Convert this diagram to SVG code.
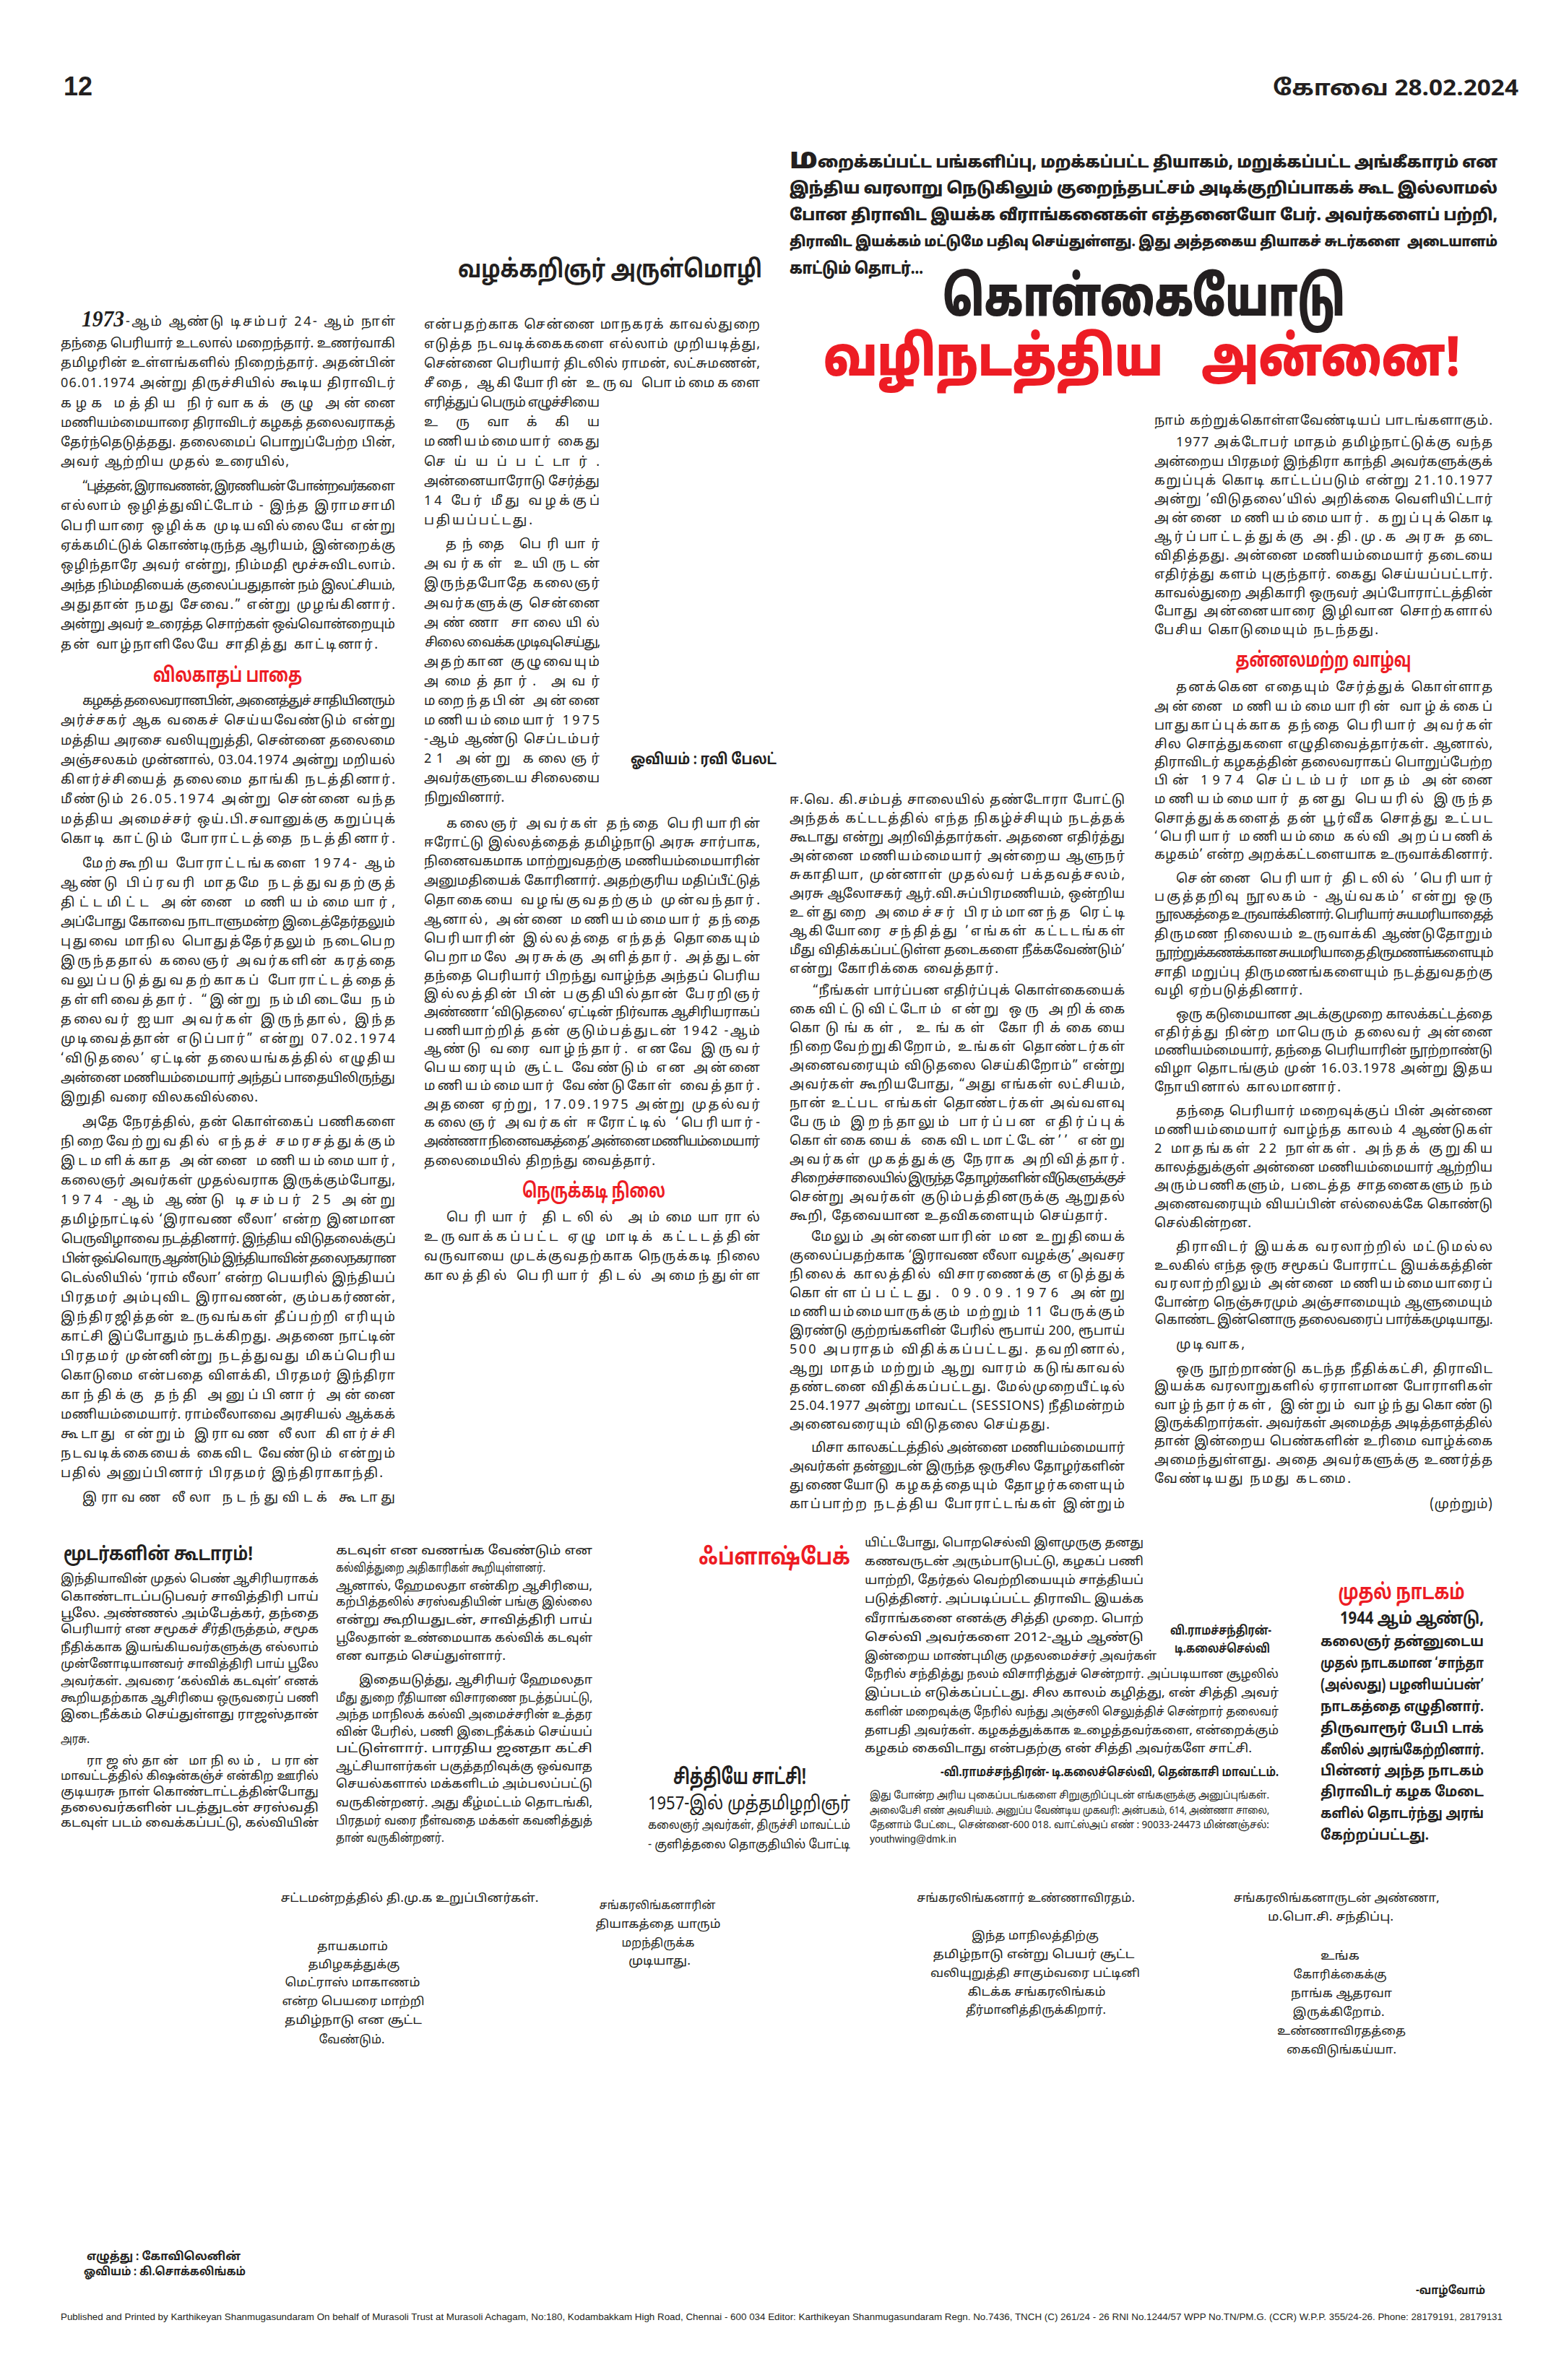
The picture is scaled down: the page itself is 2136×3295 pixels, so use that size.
<svg xmlns="http://www.w3.org/2000/svg" width="2136" height="3295" viewBox="0 0 2136 3295">
<style>
text{font-family:"Noto Sans Tamil","Noto Serif Tamil","Lohit Tamil","Latha","Noto Sans","DejaVu Sans",sans-serif;fill:#231f20}
.b{font-size:18px}
.rh{font-size:28px;font-weight:bold;fill:#ed1c24}
.bd{font-weight:bold}
.s{font-size:17px}
.c{font-size:16px;fill:#333}
.m{text-anchor:middle}
</style>
<rect width="2136" height="3295" fill="#ffffff"/>
<g id="header">
<text x="88" y="132" style="font-family:'Liberation Sans',sans-serif;font-size:36px;font-weight:bold">12</text>
<text x="1762" y="132" class="bd" style="font-size:30px" textLength="340" lengthAdjust="spacingAndGlyphs">கோவை 28.02.2024</text>
</g>
<g id="intro" style="font-size:22px;font-weight:900">
<text x="1093" y="233" style="font-size:40px">ம</text>
<text x="1132" y="232" textLength="941" lengthAdjust="spacingAndGlyphs">றைக்கப்பட்ட பங்களிப்பு, மறக்கப்பட்ட தியாகம், மறுக்கப்பட்ட அங்கீகாரம் என</text>
<text x="1093" y="268" textLength="980" lengthAdjust="spacingAndGlyphs">இந்திய வரலாறு நெடுகிலும் குறைந்தபட்சம் அடிக்குறிப்பாகக் கூட இல்லாமல்</text>
<text x="1093" y="305" textLength="980" lengthAdjust="spacingAndGlyphs">போன திராவிட இயக்க வீராங்கனைகள் எத்தனையோ பேர். அவர்களைப் பற்றி,</text>
<text x="1093" y="341" style="font-size:20px" textLength="845" lengthAdjust="spacingAndGlyphs">திராவிட இயக்கம் மட்டுமே பதிவு செய்துள்ளது. இது அத்தகைய தியாகச் சுடர்களை</text>
<text x="1948" y="341" style="font-size:20px" textLength="125" lengthAdjust="spacingAndGlyphs">அடையாளம்</text>
<text x="1093" y="379" textLength="185" lengthAdjust="spacingAndGlyphs">காட்டும் தொடர்...</text>
</g>
<g id="title">
<text x="1305" y="437" style="font-size:76px;font-weight:900" textLength="557" lengthAdjust="spacingAndGlyphs">கொள்கையோடு</text>
<text x="1140" y="520" style="font-size:76px;font-weight:900;fill:#ed1c24" textLength="470" lengthAdjust="spacingAndGlyphs">வழிநடத்திய</text>
<text x="1663" y="520" style="font-size:76px;font-weight:900;fill:#ed1c24" textLength="359" lengthAdjust="spacingAndGlyphs">அன்னை!</text>
</g>
<g id="byline">
<text x="634" y="384" class="bd" style="font-size:34px" textLength="421" lengthAdjust="spacingAndGlyphs">வழக்கறிஞர் அருள்மொழி</text>
</g>
<g id="col1" class="b">
<text x="113" y="452" style="font-family:'Liberation Serif',serif;font-size:31px;font-weight:bold;font-style:italic" textLength="59" lengthAdjust="spacingAndGlyphs">1973</text>
<text x="174" y="451" textLength="373" lengthAdjust="spacing">-ஆம் ஆண்டு டிசம்பர் 24- ஆம் நாள்</text>
<text x="84" y="481" textLength="463" lengthAdjust="spacing">தந்தை பெரியார் உடலால் மறைந்தார். உணர்வாகி</text>
<text x="84" y="508" textLength="463" lengthAdjust="spacing">தமிழரின் உள்ளங்களில் நிறைந்தார். அதன்பின்</text>
<text x="84" y="536" textLength="463" lengthAdjust="spacing">06.01.1974 அன்று திருச்சியில் கூடிய திராவிடர்</text>
<text x="84" y="564" textLength="463" lengthAdjust="spacing">கழக மத்திய நிர்வாகக் குழு அன்னை</text>
<text x="84" y="591" textLength="463" lengthAdjust="spacing">மணியம்மையாரை திராவிடர் கழகத் தலைவராகத்</text>
<text x="84" y="618" textLength="463" lengthAdjust="spacing">தேர்ந்தெடுத்தது. தலைமைப் பொறுப்பேற்ற பின்,</text>
<text x="84" y="645" textLength="316" lengthAdjust="spacing">அவர் ஆற்றிய முதல் உரையில்,</text>
<text x="114" y="679" textLength="433" lengthAdjust="spacing">“புத்தன், இராவணன், இரணியன் போன்றவர்களை</text>
<text x="84" y="706" textLength="463" lengthAdjust="spacing">எல்லாம் ஒழித்துவிட்டோம் - இந்த இராமசாமி</text>
<text x="84" y="734" textLength="463" lengthAdjust="spacing">பெரியாரை ஒழிக்க முடியவில்லையே என்று</text>
<text x="84" y="761" textLength="463" lengthAdjust="spacing">ஏக்கமிட்டுக் கொண்டிருந்த ஆரியம், இன்றைக்கு</text>
<text x="84" y="788" textLength="463" lengthAdjust="spacing">ஒழிந்தாரே அவர் என்று, நிம்மதி மூச்சுவிடலாம்.</text>
<text x="84" y="816" textLength="463" lengthAdjust="spacing">அந்த நிம்மதியைக் குலைப்பதுதான் நம் இலட்சியம்,</text>
<text x="84" y="843" textLength="463" lengthAdjust="spacing">அதுதான் நமது சேவை.” என்று முழங்கினார்.</text>
<text x="84" y="870" textLength="463" lengthAdjust="spacing">அன்று அவர் உரைத்த சொற்கள் ஒவ்வொன்றையும்</text>
<text x="84" y="898" textLength="439" lengthAdjust="spacing">தன் வாழ்நாளிலேயே சாதித்து காட்டினார்.</text>
<text x="315" y="944" class="rh m" textLength="206" lengthAdjust="spacingAndGlyphs">விலகாதப் பாதை</text>
<text x="114" y="976" textLength="433" lengthAdjust="spacing">கழகத் தலைவரானபின், அனைத்துச் சாதியினரும்</text>
<text x="84" y="1003" textLength="463" lengthAdjust="spacing">அர்ச்சகர் ஆக வகைச் செய்யவேண்டும் என்று</text>
<text x="84" y="1031" textLength="463" lengthAdjust="spacing">மத்திய அரசை வலியுறுத்தி, சென்னை தலைமை</text>
<text x="84" y="1058" textLength="463" lengthAdjust="spacing">அஞ்சலகம் முன்னால், 03.04.1974 அன்று மறியல்</text>
<text x="84" y="1085" textLength="463" lengthAdjust="spacing">கிளர்ச்சியைத் தலைமை தாங்கி நடத்தினார்.</text>
<text x="84" y="1112" textLength="463" lengthAdjust="spacing">மீண்டும் 26.05.1974 அன்று சென்னை வந்த</text>
<text x="84" y="1140" textLength="463" lengthAdjust="spacing">மத்திய அமைச்சர் ஒய்.பி.சவானுக்கு கறுப்புக்</text>
<text x="84" y="1167" textLength="463" lengthAdjust="spacing">கொடி காட்டும் போராட்டத்தை நடத்தினார்.</text>
<text x="114" y="1201" textLength="433" lengthAdjust="spacing">மேற்கூறிய போராட்டங்களை 1974- ஆம்</text>
<text x="84" y="1228" textLength="463" lengthAdjust="spacing">ஆண்டு பிப்ரவரி மாதமே நடத்துவதற்குத்</text>
<text x="84" y="1255" textLength="463" lengthAdjust="spacing">திட்டமிட்ட அன்னை மணியம்மையார்,</text>
<text x="84" y="1282" textLength="463" lengthAdjust="spacing">அப்போது கோவை நாடாளுமன்ற இடைத்தேர்தலும்</text>
<text x="84" y="1309" textLength="463" lengthAdjust="spacing">புதுவை மாநில பொதுத்தேர்தலும் நடைபெற</text>
<text x="84" y="1336" textLength="463" lengthAdjust="spacing">இருந்ததால் கலைஞர் அவர்களின் கரத்தை</text>
<text x="84" y="1363" textLength="463" lengthAdjust="spacing">வலுப்படுத்துவதற்காகப் போராட்டத்தைத்</text>
<text x="84" y="1390" textLength="463" lengthAdjust="spacing">தள்ளிவைத்தார். “இன்று நம்மிடையே நம்</text>
<text x="84" y="1417" textLength="463" lengthAdjust="spacing">தலைவர் ஐயா அவர்கள் இருந்தால், இந்த</text>
<text x="84" y="1444" textLength="463" lengthAdjust="spacing">முடிவைத்தான் எடுப்பார்” என்று 07.02.1974</text>
<text x="84" y="1471" textLength="463" lengthAdjust="spacing">‘விடுதலை’ ஏட்டின் தலையங்கத்தில் எழுதிய</text>
<text x="84" y="1498" textLength="463" lengthAdjust="spacing">அன்னை மணியம்மையார் அந்தப் பாதையிலிருந்து</text>
<text x="84" y="1525" textLength="273" lengthAdjust="spacing">இறுதி வரை விலகவில்லை.</text>
<text x="114" y="1559" textLength="433" lengthAdjust="spacing">அதே நேரத்தில், தன் கொள்கைப் பணிகளை</text>
<text x="84" y="1586" textLength="463" lengthAdjust="spacing">நிறைவேற்றுவதில் எந்தச் சமரசத்துக்கும்</text>
<text x="84" y="1613" textLength="463" lengthAdjust="spacing">இடமளிக்காத அன்னை மணியம்மையார்,</text>
<text x="84" y="1640" textLength="463" lengthAdjust="spacing">கலைஞர் அவர்கள் முதல்வராக இருக்கும்போது,</text>
<text x="84" y="1667" textLength="463" lengthAdjust="spacing">1974 -ஆம் ஆண்டு டிசம்பர் 25 அன்று</text>
<text x="84" y="1694" textLength="463" lengthAdjust="spacing">தமிழ்நாட்டில் ‘இராவண லீலா’ என்ற இனமான</text>
<text x="84" y="1721" textLength="463" lengthAdjust="spacing">பெருவிழாவை நடத்தினார். இந்திய விடுதலைக்குப்</text>
<text x="84" y="1748" textLength="463" lengthAdjust="spacing">பின் ஒவ்வொரு ஆண்டும் இந்தியாவின் தலைநகரான</text>
<text x="84" y="1775" textLength="463" lengthAdjust="spacing">டெல்லியில் ‘ராம் லீலா’ என்ற பெயரில் இந்தியப்</text>
<text x="84" y="1802" textLength="463" lengthAdjust="spacing">பிரதமர் அம்புவிட இராவணன், கும்பகர்ணன்,</text>
<text x="84" y="1829" textLength="463" lengthAdjust="spacing">இந்திரஜித்தன் உருவங்கள் தீப்பற்றி எரியும்</text>
<text x="84" y="1856" textLength="463" lengthAdjust="spacing">காட்சி இப்போதும் நடக்கிறது. அதனை நாட்டின்</text>
<text x="84" y="1883" textLength="463" lengthAdjust="spacing">பிரதமர் முன்னின்று நடத்துவது மிகப்பெரிய</text>
<text x="84" y="1910" textLength="463" lengthAdjust="spacing">கொடுமை என்பதை விளக்கி, பிரதமர் இந்திரா</text>
<text x="84" y="1937" textLength="463" lengthAdjust="spacing">காந்திக்கு தந்தி அனுப்பினார் அன்னை</text>
<text x="84" y="1964" textLength="463" lengthAdjust="spacing">மணியம்மையார். ராம்லீலாவை அரசியல் ஆக்கக்</text>
<text x="84" y="1991" textLength="463" lengthAdjust="spacing">கூடாது என்றும் இராவண லீலா கிளர்ச்சி</text>
<text x="84" y="2018" textLength="463" lengthAdjust="spacing">நடவடிக்கையைக் கைவிட வேண்டும் என்றும்</text>
<text x="84" y="2045" textLength="446" lengthAdjust="spacing">பதில் அனுப்பினார் பிரதமர் இந்திராகாந்தி.</text>
<text x="114" y="2079" textLength="433" lengthAdjust="spacing">இராவண லீலா நடந்துவிடக் கூடாது</text>
</g>
<g id="col2" class="b">
<text x="587" y="455" textLength="465" lengthAdjust="spacing">என்பதற்காக சென்னை மாநகரக் காவல்துறை</text>
<text x="587" y="482" textLength="465" lengthAdjust="spacing">எடுத்த நடவடிக்கைகளை எல்லாம் முறியடித்து,</text>
<text x="587" y="509" textLength="465" lengthAdjust="spacing">சென்னை பெரியார் திடலில் ராமன், லட்சுமணன்,</text>
<text x="587" y="536" textLength="465" lengthAdjust="spacing">சீதை, ஆகியோரின் உருவ பொம்மைகளை</text>
<text x="587" y="563" textLength="243" lengthAdjust="spacing">எரித்துப் பெரும் எழுச்சியை</text>
<text x="587" y="590" textLength="243" lengthAdjust="spacing">உருவாக்கிய</text>
<text x="587" y="617" textLength="243" lengthAdjust="spacing">மணியம்மையார் கைது</text>
<text x="587" y="645" textLength="243" lengthAdjust="spacing">செய்யப்பட்டார்.</text>
<text x="587" y="672" textLength="243" lengthAdjust="spacing">அன்னையாரோடு சேர்த்து</text>
<text x="587" y="699" textLength="243" lengthAdjust="spacing">14 பேர் மீது வழக்குப்</text>
<text x="587" y="726" textLength="150" lengthAdjust="spacing">பதியப்பட்டது.</text>
<text x="617" y="759" textLength="213" lengthAdjust="spacing">தந்தை பெரியார்</text>
<text x="587" y="786" textLength="243" lengthAdjust="spacing">அவர்கள் உயிருடன்</text>
<text x="587" y="813" textLength="243" lengthAdjust="spacing">இருந்தபோதே கலைஞர்</text>
<text x="587" y="841" textLength="243" lengthAdjust="spacing">அவர்களுக்கு சென்னை</text>
<text x="587" y="868" textLength="243" lengthAdjust="spacing">அண்ணா சாலையில்</text>
<text x="587" y="895" textLength="243" lengthAdjust="spacing">சிலை வைக்க முடிவுசெய்து,</text>
<text x="587" y="922" textLength="243" lengthAdjust="spacing">அதற்கான குழுவையும்</text>
<text x="587" y="949" textLength="243" lengthAdjust="spacing">அமைத்தார். அவர்</text>
<text x="587" y="976" textLength="243" lengthAdjust="spacing">மறைந்தபின் அன்னை</text>
<text x="587" y="1003" textLength="243" lengthAdjust="spacing">மணியம்மையார் 1975</text>
<text x="587" y="1029" textLength="243" lengthAdjust="spacing">-ஆம் ஆண்டு செப்டம்பர்</text>
<text x="587" y="1056" textLength="243" lengthAdjust="spacing">21 அன்று கலைஞர்</text>
<text x="587" y="1083" textLength="243" lengthAdjust="spacing">அவர்களுடைய சிலையை</text>
<text x="587" y="1110" textLength="111" lengthAdjust="spacing">நிறுவினார்.</text>
<text x="873" y="1058" class="bd" style="font-size:21px" textLength="202" lengthAdjust="spacingAndGlyphs">ஓவியம் : ரவி பேலட்</text>
<text x="618" y="1146" textLength="434" lengthAdjust="spacing">கலைஞர் அவர்கள் தந்தை பெரியாரின்</text>
<text x="587" y="1172" textLength="465" lengthAdjust="spacing">ஈரோட்டு இல்லத்தைத் தமிழ்நாடு அரசு சார்பாக,</text>
<text x="587" y="1198" textLength="465" lengthAdjust="spacing">நினைவகமாக மாற்றுவதற்கு மணியம்மையாரின்</text>
<text x="587" y="1225" textLength="465" lengthAdjust="spacing">அனுமதியைக் கோரினார். அதற்குரிய மதிப்பீட்டுத்</text>
<text x="587" y="1252" textLength="465" lengthAdjust="spacing">தொகையை வழங்குவதற்கும் முன்வந்தார்.</text>
<text x="587" y="1279" textLength="465" lengthAdjust="spacing">ஆனால், அன்னை மணியம்மையார் தந்தை</text>
<text x="587" y="1305" textLength="465" lengthAdjust="spacing">பெரியாரின் இல்லத்தை எந்தத் தொகையும்</text>
<text x="587" y="1331" textLength="465" lengthAdjust="spacing">பெறாமலே அரசுக்கு அளித்தார். அத்துடன்</text>
<text x="587" y="1357" textLength="465" lengthAdjust="spacing">தந்தை பெரியார் பிறந்து வாழ்ந்த அந்தப் பெரிய</text>
<text x="587" y="1382" textLength="465" lengthAdjust="spacing">இல்லத்தின் பின் பகுதியில்தான் பேரறிஞர்</text>
<text x="587" y="1407" textLength="465" lengthAdjust="spacing">அண்ணா ‘விடுதலை’ ஏட்டின் நிர்வாக ஆசிரியராகப்</text>
<text x="587" y="1433" textLength="465" lengthAdjust="spacing">பணியாற்றித் தன் குடும்பத்துடன் 1942 -ஆம்</text>
<text x="587" y="1458" textLength="465" lengthAdjust="spacing">ஆண்டு வரை வாழ்ந்தார். எனவே இருவர்</text>
<text x="587" y="1484" textLength="465" lengthAdjust="spacing">பெயரையும் சூட்ட வேண்டும் என அன்னை</text>
<text x="587" y="1509" textLength="465" lengthAdjust="spacing">மணியம்மையார் வேண்டுகோள் வைத்தார்.</text>
<text x="587" y="1535" textLength="465" lengthAdjust="spacing">அதனை ஏற்று, 17.09.1975 அன்று முதல்வர்</text>
<text x="587" y="1560" textLength="465" lengthAdjust="spacing">கலைஞர் அவர்கள் ஈரோட்டில் ‘பெரியார்-</text>
<text x="587" y="1586" textLength="465" lengthAdjust="spacing">அண்ணா நினைவகத்தை’ அன்னை மணியம்மையார்</text>
<text x="587" y="1613" textLength="320" lengthAdjust="spacing">தலைமையில் திறந்து வைத்தார்.</text>
<text x="822" y="1658" class="rh m" textLength="198" lengthAdjust="spacingAndGlyphs">நெருக்கடி நிலை</text>
<text x="618" y="1691" textLength="434" lengthAdjust="spacing">பெரியார் திடலில் அம்மையாரால்</text>
<text x="587" y="1718" textLength="465" lengthAdjust="spacing">உருவாக்கப்பட்ட ஏழு மாடிக் கட்டடத்தின்</text>
<text x="587" y="1745" textLength="465" lengthAdjust="spacing">வருவாயை முடக்குவதற்காக நெருக்கடி நிலை</text>
<text x="587" y="1772" textLength="465" lengthAdjust="spacing">காலத்தில் பெரியார் திடல் அமைந்துள்ள</text>
</g>
<g id="col3" class="b">
<text x="1093" y="1113" textLength="464" lengthAdjust="spacing">ஈ.வெ. கி.சம்பத் சாலையில் தண்டோரா போட்டு</text>
<text x="1093" y="1139" textLength="464" lengthAdjust="spacing">அந்தக் கட்டடத்தில் எந்த நிகழ்ச்சியும் நடத்தக்</text>
<text x="1093" y="1165" textLength="464" lengthAdjust="spacing">கூடாது என்று அறிவித்தார்கள். அதனை எதிர்த்து</text>
<text x="1093" y="1191" textLength="464" lengthAdjust="spacing">அன்னை மணியம்மையார் அன்றைய ஆளுநர்</text>
<text x="1093" y="1217" textLength="464" lengthAdjust="spacing">சுகாதியா, முன்னாள் முதல்வர் பக்தவத்சலம்,</text>
<text x="1093" y="1243" textLength="464" lengthAdjust="spacing">அரசு ஆலோசகர் ஆர்.வி.சுப்பிரமணியம், ஒன்றிய</text>
<text x="1093" y="1269" textLength="464" lengthAdjust="spacing">உள்துறை அமைச்சர் பிரம்மானந்த ரெட்டி</text>
<text x="1093" y="1295" textLength="464" lengthAdjust="spacing">ஆகியோரை சந்தித்து ’எங்கள் கட்டடங்கள்</text>
<text x="1093" y="1321" textLength="464" lengthAdjust="spacing">மீது விதிக்கப்பட்டுள்ள தடைகளை நீக்கவேண்டும்’</text>
<text x="1093" y="1347" textLength="289" lengthAdjust="spacing">என்று கோரிக்கை வைத்தார்.</text>
<text x="1125" y="1377" textLength="432" lengthAdjust="spacing">“நீங்கள் பார்ப்பன எதிர்ப்புக் கொள்கையைக்</text>
<text x="1093" y="1403" textLength="464" lengthAdjust="spacing">கைவிட்டுவிட்டோம் என்று ஒரு அறிக்கை</text>
<text x="1093" y="1429" textLength="464" lengthAdjust="spacing">கொடுங்கள், உங்கள் கோரிக்கையை</text>
<text x="1093" y="1455" textLength="464" lengthAdjust="spacing">நிறைவேற்றுகிறோம், உங்கள் தொண்டர்கள்</text>
<text x="1093" y="1481" textLength="464" lengthAdjust="spacing">அனைவரையும் விடுதலை செய்கிறோம்” என்று</text>
<text x="1093" y="1507" textLength="464" lengthAdjust="spacing">அவர்கள் கூறியபோது, “அது எங்கள் லட்சியம்,</text>
<text x="1093" y="1533" textLength="464" lengthAdjust="spacing">நான் உட்பட எங்கள் தொண்டர்கள் அவ்வளவு</text>
<text x="1093" y="1559" textLength="464" lengthAdjust="spacing">பேரும் இறந்தாலும் பார்ப்பன எதிர்ப்புக்</text>
<text x="1093" y="1585" textLength="464" lengthAdjust="spacing">கொள்கையைக் கைவிடமாட்டேன்’’ என்று</text>
<text x="1093" y="1611" textLength="464" lengthAdjust="spacing">அவர்கள் முகத்துக்கு நேராக அறிவித்தார்.</text>
<text x="1093" y="1637" textLength="464" lengthAdjust="spacing">சிறைச்சாலையில் இருந்த தோழர்களின் வீடுகளுக்குச்</text>
<text x="1093" y="1663" textLength="464" lengthAdjust="spacing">சென்று அவர்கள் குடும்பத்தினருக்கு ஆறுதல்</text>
<text x="1093" y="1689" textLength="440" lengthAdjust="spacing">கூறி, தேவையான உதவிகளையும் செய்தார்.</text>
<text x="1123" y="1718" textLength="434" lengthAdjust="spacing">மேலும் அன்னையாரின் மன உறுதியைக்</text>
<text x="1093" y="1744" textLength="464" lengthAdjust="spacing">குலைப்பதற்காக ‘இராவண லீலா வழக்கு’ அவசர</text>
<text x="1093" y="1770" textLength="464" lengthAdjust="spacing">நிலைக் காலத்தில் விசாரணைக்கு எடுத்துக்</text>
<text x="1093" y="1796" textLength="464" lengthAdjust="spacing">கொள்ளப்பட்டது. 09.09.1976 அன்று</text>
<text x="1093" y="1822" textLength="464" lengthAdjust="spacing">மணியம்மையாருக்கும் மற்றும் 11 பேருக்கும்</text>
<text x="1093" y="1848" textLength="464" lengthAdjust="spacing">இரண்டு குற்றங்களின் பேரில் ரூபாய் 200, ரூபாய்</text>
<text x="1093" y="1874" textLength="464" lengthAdjust="spacing">500 அபராதம் விதிக்கப்பட்டது. தவறினால்,</text>
<text x="1093" y="1900" textLength="464" lengthAdjust="spacing">ஆறு மாதம் மற்றும் ஆறு வாரம் கடுங்காவல்</text>
<text x="1093" y="1926" textLength="464" lengthAdjust="spacing">தண்டனை விதிக்கப்பட்டது. மேல்முறையீட்டில்</text>
<text x="1093" y="1952" textLength="464" lengthAdjust="spacing">25.04.1977 அன்று மாவட்ட (SESSIONS) நீதிமன்றம்</text>
<text x="1093" y="1978" textLength="360" lengthAdjust="spacing">அனைவரையும் விடுதலை செய்தது.</text>
<text x="1123" y="2010" textLength="434" lengthAdjust="spacing">மிசா காலகட்டத்தில் அன்னை மணியம்மையார்</text>
<text x="1093" y="2036" textLength="464" lengthAdjust="spacing">அவர்கள் தன்னுடன் இருந்த ஒருசில தோழர்களின்</text>
<text x="1093" y="2062" textLength="464" lengthAdjust="spacing">துணையோடு கழகத்தையும் தோழர்களையும்</text>
<text x="1093" y="2088" textLength="464" lengthAdjust="spacing">காப்பாற்ற நடத்திய போராட்டங்கள் இன்றும்</text>
</g>
<g id="col4" class="b">
<text x="1598" y="588" textLength="468" lengthAdjust="spacing">நாம் கற்றுக்கொள்ளவேண்டியப் பாடங்களாகும்.</text>
<text x="1628" y="618" textLength="438" lengthAdjust="spacing">1977 அக்டோபர் மாதம் தமிழ்நாட்டுக்கு வந்த</text>
<text x="1598" y="645" textLength="468" lengthAdjust="spacing">அன்றைய பிரதமர் இந்திரா காந்தி அவர்களுக்குக்</text>
<text x="1598" y="671" textLength="468" lengthAdjust="spacing">கறுப்புக் கொடி காட்டப்படும் என்று 21.10.1977</text>
<text x="1598" y="697" textLength="468" lengthAdjust="spacing">அன்று ’விடுதலை’யில் அறிக்கை வெளியிட்டார்</text>
<text x="1598" y="723" textLength="468" lengthAdjust="spacing">அன்னை மணியம்மையார். கறுப்புக்கொடி</text>
<text x="1598" y="749" textLength="468" lengthAdjust="spacing">ஆர்ப்பாட்டத்துக்கு அ.தி.மு.க அரசு தடை</text>
<text x="1598" y="775" textLength="468" lengthAdjust="spacing">விதித்தது. அன்னை மணியம்மையார் தடையை</text>
<text x="1598" y="801" textLength="468" lengthAdjust="spacing">எதிர்த்து களம் புகுந்தார். கைது செய்யப்பட்டார்.</text>
<text x="1598" y="827" textLength="468" lengthAdjust="spacing">காவல்துறை அதிகாரி ஒருவர் அப்போராட்டத்தின்</text>
<text x="1598" y="852" textLength="468" lengthAdjust="spacing">போது அன்னையாரை இழிவான சொற்களால்</text>
<text x="1598" y="878" textLength="310" lengthAdjust="spacing">பேசிய கொடுமையும் நடந்தது.</text>
<text x="1832" y="923" class="rh m" textLength="243" lengthAdjust="spacingAndGlyphs">தன்னலமற்ற வாழ்வு</text>
<text x="1628" y="957" textLength="438" lengthAdjust="spacing">தனக்கென எதையும் சேர்த்துக் கொள்ளாத</text>
<text x="1598" y="984" textLength="468" lengthAdjust="spacing">அன்னை மணியம்மையாரின் வாழ்க்கைப்</text>
<text x="1598" y="1010" textLength="468" lengthAdjust="spacing">பாதுகாப்புக்காக தந்தை பெரியார் அவர்கள்</text>
<text x="1598" y="1036" textLength="468" lengthAdjust="spacing">சில சொத்துகளை எழுதிவைத்தார்கள். ஆனால்,</text>
<text x="1598" y="1061" textLength="468" lengthAdjust="spacing">திராவிடர் கழகத்தின் தலைவராகப் பொறுப்பேற்ற</text>
<text x="1598" y="1086" textLength="468" lengthAdjust="spacing">பின் 1974 செப்டம்பர் மாதம் அன்னை</text>
<text x="1598" y="1112" textLength="468" lengthAdjust="spacing">மணியம்மையார் தனது பெயரில் இருந்த</text>
<text x="1598" y="1139" textLength="468" lengthAdjust="spacing">சொத்துக்களைத் தன் பூர்வீக சொத்து உட்பட</text>
<text x="1598" y="1164" textLength="468" lengthAdjust="spacing">‘பெரியார் மணியம்மை கல்வி அறப்பணிக்</text>
<text x="1598" y="1189" textLength="468" lengthAdjust="spacing">கழகம்’ என்ற அறக்கட்டளையாக உருவாக்கினார்.</text>
<text x="1628" y="1222" textLength="438" lengthAdjust="spacing">சென்னை பெரியார் திடலில் ’பெரியார்</text>
<text x="1598" y="1247" textLength="468" lengthAdjust="spacing">பகுத்தறிவு நூலகம் - ஆய்வகம்’ என்று ஒரு</text>
<text x="1598" y="1272" textLength="468" lengthAdjust="spacing">நூலகத்தை உருவாக்கினார். பெரியார் சுயமரியாதைத்</text>
<text x="1598" y="1299" textLength="468" lengthAdjust="spacing">திருமண நிலையம் உருவாக்கி ஆண்டுதோறும்</text>
<text x="1598" y="1325" textLength="468" lengthAdjust="spacing">நூற்றுக்கணக்கான சுயமரியாதை திருமணங்களையும்</text>
<text x="1598" y="1352" textLength="468" lengthAdjust="spacing">சாதி மறுப்பு திருமணங்களையும் நடத்துவதற்கு</text>
<text x="1598" y="1377" textLength="205" lengthAdjust="spacing">வழி ஏற்படுத்தினார்.</text>
<text x="1628" y="1410" textLength="438" lengthAdjust="spacing">ஒரு கடுமையான அடக்குமுறை காலக்கட்டத்தை</text>
<text x="1598" y="1435" textLength="468" lengthAdjust="spacing">எதிர்த்து நின்ற மாபெரும் தலைவர் அன்னை</text>
<text x="1598" y="1460" textLength="468" lengthAdjust="spacing">மணியம்மையார், தந்தை பெரியாரின் நூற்றாண்டு</text>
<text x="1598" y="1485" textLength="468" lengthAdjust="spacing">விழா தொடங்கும் முன் 16.03.1978 அன்று இதய</text>
<text x="1598" y="1511" textLength="258" lengthAdjust="spacing">நோயினால் காலமானார்.</text>
<text x="1628" y="1544" textLength="438" lengthAdjust="spacing">தந்தை பெரியார் மறைவுக்குப் பின் அன்னை</text>
<text x="1598" y="1570" textLength="468" lengthAdjust="spacing">மணியம்மையார் வாழ்ந்த காலம் 4 ஆண்டுகள்</text>
<text x="1598" y="1596" textLength="468" lengthAdjust="spacing">2 மாதங்கள் 22 நாள்கள். அந்தக் குறுகிய</text>
<text x="1598" y="1622" textLength="468" lengthAdjust="spacing">காலத்துக்குள் அன்னை மணியம்மையார் ஆற்றிய</text>
<text x="1598" y="1647" textLength="468" lengthAdjust="spacing">அரும்பணிகளும், படைத்த சாதனைகளும் நம்</text>
<text x="1598" y="1673" textLength="468" lengthAdjust="spacing">அனைவரையும் வியப்பின் எல்லைக்கே கொண்டு</text>
<text x="1598" y="1699" textLength="134" lengthAdjust="spacing">செல்கின்றன.</text>
<text x="1628" y="1732" textLength="438" lengthAdjust="spacing">திராவிடர் இயக்க வரலாற்றில் மட்டுமல்ல</text>
<text x="1598" y="1758" textLength="468" lengthAdjust="spacing">உலகில் எந்த ஒரு சமூகப் போராட்ட இயக்கத்தின்</text>
<text x="1598" y="1783" textLength="468" lengthAdjust="spacing">வரலாற்றிலும் அன்னை மணியம்மையாரைப்</text>
<text x="1598" y="1809" textLength="468" lengthAdjust="spacing">போன்ற நெஞ்சுரமும் அஞ்சாமையும் ஆளுமையும்</text>
<text x="1598" y="1833" textLength="468" lengthAdjust="spacing">கொண்ட இன்னொரு தலைவரைப் பார்க்கமுடியாது.</text>
<text x="1628" y="1867" textLength="95" lengthAdjust="spacing">முடிவாக,</text>
<text x="1628" y="1901" textLength="438" lengthAdjust="spacing">ஒரு நூற்றாண்டு கடந்த நீதிக்கட்சி, திராவிட</text>
<text x="1598" y="1925" textLength="468" lengthAdjust="spacing">இயக்க வரலாறுகளில் ஏராளமான போராளிகள்</text>
<text x="1598" y="1951" textLength="468" lengthAdjust="spacing">வாழ்ந்தார்கள், இன்றும் வாழ்ந்துகொண்டு</text>
<text x="1598" y="1976" textLength="468" lengthAdjust="spacing">இருக்கிறார்கள். அவர்கள் அமைத்த அடித்தளத்தில்</text>
<text x="1598" y="2001" textLength="468" lengthAdjust="spacing">தான் இன்றைய பெண்களின் உரிமை வாழ்க்கை</text>
<text x="1598" y="2027" textLength="468" lengthAdjust="spacing">அமைந்துள்ளது. அதை அவர்களுக்கு உணர்த்த</text>
<text x="1598" y="2053" textLength="272" lengthAdjust="spacing">வேண்டியது நமது கடமை.</text>
<text x="1979" y="2088" textLength="87" lengthAdjust="spacing">(முற்றும்)</text>
</g>
<g id="sidebar" class="s">
<text x="88" y="2160" class="bd" style="font-size:26px" textLength="262" lengthAdjust="spacingAndGlyphs">மூடர்களின் கூடாரம்!</text>
<text x="84" y="2191" textLength="357" lengthAdjust="spacingAndGlyphs">இந்தியாவின் முதல் பெண் ஆசிரியராகக்</text>
<text x="84" y="2216" textLength="357" lengthAdjust="spacingAndGlyphs">கொண்டாடப்படுபவர் சாவித்திரி பாய்</text>
<text x="84" y="2239" textLength="357" lengthAdjust="spacingAndGlyphs">பூலே. அண்ணல் அம்பேத்கர், தந்தை</text>
<text x="84" y="2261" textLength="357" lengthAdjust="spacingAndGlyphs">பெரியார் என சமூகச் சீர்திருத்தம், சமூக</text>
<text x="84" y="2286" textLength="357" lengthAdjust="spacingAndGlyphs">நீதிக்காக இயங்கியவர்களுக்கு எல்லாம்</text>
<text x="84" y="2309" textLength="357" lengthAdjust="spacingAndGlyphs">முன்னோடியானவர் சாவித்திரி பாய் பூலே</text>
<text x="84" y="2333" textLength="357" lengthAdjust="spacingAndGlyphs">அவர்கள். அவரை ‘கல்விக் கடவுள்’ எனக்</text>
<text x="84" y="2356" textLength="357" lengthAdjust="spacingAndGlyphs">கூறியதற்காக ஆசிரியை ஒருவரைப் பணி</text>
<text x="84" y="2379" textLength="357" lengthAdjust="spacingAndGlyphs">இடைநீக்கம் செய்துள்ளது ராஜஸ்தான்</text>
<text x="84" y="2413" textLength="40" lengthAdjust="spacingAndGlyphs">அரசு.</text>
<text x="120" y="2443" textLength="321" lengthAdjust="spacing">ராஜஸ்தான் மாநிலம், பரான்</text>
<text x="84" y="2464" textLength="357" lengthAdjust="spacingAndGlyphs">மாவட்டத்தில் கிஷன்கஞ்ச் என்கிற ஊரில்</text>
<text x="84" y="2486" textLength="357" lengthAdjust="spacingAndGlyphs">குடியரசு நாள் கொண்டாட்டத்தின்போது</text>
<text x="84" y="2508" textLength="357" lengthAdjust="spacingAndGlyphs">தலைவர்களின் படத்துடன் சரஸ்வதி</text>
<text x="84" y="2529" textLength="357" lengthAdjust="spacingAndGlyphs">கடவுள் படம் வைக்கப்பட்டு, கல்வியின்</text>
</g>
<g id="sidebar2" class="s">
<text x="465" y="2152" textLength="355" lengthAdjust="spacingAndGlyphs">கடவுள் என வணங்க வேண்டும் என</text>
<text x="465" y="2176" textLength="290" lengthAdjust="spacingAndGlyphs">கல்வித்துறை அதிகாரிகள் கூறியுள்ளனர்.</text>
<text x="465" y="2201" textLength="355" lengthAdjust="spacingAndGlyphs">ஆனால், ஹேமலதா என்கிற ஆசிரியை,</text>
<text x="465" y="2223" textLength="355" lengthAdjust="spacingAndGlyphs">கற்பித்தலில் சரஸ்வதியின் பங்கு இல்லை</text>
<text x="465" y="2248" textLength="355" lengthAdjust="spacingAndGlyphs">என்று கூறியதுடன், சாவித்திரி பாய்</text>
<text x="465" y="2273" textLength="355" lengthAdjust="spacingAndGlyphs">பூலேதான் உண்மையாக கல்விக் கடவுள்</text>
<text x="465" y="2298" textLength="235" lengthAdjust="spacingAndGlyphs">என வாதம் செய்துள்ளார்.</text>
<text x="497" y="2331" textLength="323" lengthAdjust="spacingAndGlyphs">இதையடுத்து, ஆசிரியர் ஹேமலதா</text>
<text x="465" y="2356" textLength="355" lengthAdjust="spacingAndGlyphs">மீது துறை ரீதியான விசாரணை நடத்தப்பட்டு,</text>
<text x="465" y="2379" textLength="355" lengthAdjust="spacingAndGlyphs">அந்த மாநிலக் கல்வி அமைச்சரின் உத்தர</text>
<text x="465" y="2403" textLength="355" lengthAdjust="spacingAndGlyphs">வின் பேரில், பணி இடைநீக்கம் செய்யப்</text>
<text x="465" y="2426" textLength="355" lengthAdjust="spacingAndGlyphs">பட்டுள்ளார். பாரதிய ஜனதா கட்சி</text>
<text x="465" y="2451" textLength="355" lengthAdjust="spacingAndGlyphs">ஆட்சியாளர்கள் பகுத்தறிவுக்கு ஒவ்வாத</text>
<text x="465" y="2475" textLength="355" lengthAdjust="spacingAndGlyphs">செயல்களால் மக்களிடம் அம்பலப்பட்டு</text>
<text x="465" y="2501" textLength="355" lengthAdjust="spacingAndGlyphs">வருகின்றனர். அது கீழ்மட்டம் தொடங்கி,</text>
<text x="465" y="2526" textLength="355" lengthAdjust="spacingAndGlyphs">பிரதமர் வரை நீள்வதை மக்கள் கவனித்துத்</text>
<text x="465" y="2550" textLength="150" lengthAdjust="spacingAndGlyphs">தான் வருகின்றனர்.</text>
</g>
<g id="flashback">
<text x="967" y="2166" style="font-size:32px;font-weight:bold;fill:#ed1c24" textLength="210" lengthAdjust="spacingAndGlyphs">ஃப்ளாஷ்பேக்</text>
<text x="1024" y="2470" class="bd m" style="font-size:30px" textLength="184" lengthAdjust="spacingAndGlyphs">சித்தியே சாட்சி!</text>
<text x="897" y="2505" style="font-size:26px" textLength="280" lengthAdjust="spacingAndGlyphs">1957-இல் முத்தமிழறிஞர்</text>
<text x="897" y="2532" class="s" textLength="280" lengthAdjust="spacingAndGlyphs">கலைஞர் அவர்கள், திருச்சி மாவட்டம்</text>
<text x="897" y="2559" class="s" textLength="280" lengthAdjust="spacingAndGlyphs">- குளித்தலை தொகுதியில் போட்டி</text>
</g>
<g id="flashback-text" class="s">
<text x="1197" y="2141" textLength="386" lengthAdjust="spacingAndGlyphs">யிட்டபோது, பொறசெல்வி இளமுருகு தனது</text>
<text x="1197" y="2167" textLength="386" lengthAdjust="spacingAndGlyphs">கணவருடன் அரும்பாடுபட்டு, கழகப் பணி</text>
<text x="1197" y="2193" textLength="386" lengthAdjust="spacingAndGlyphs">யாற்றி, தேர்தல் வெற்றியையும் சாத்தியப்</text>
<text x="1197" y="2219" textLength="386" lengthAdjust="spacingAndGlyphs">படுத்தினர். அப்படிப்பட்ட திராவிட இயக்க</text>
<text x="1197" y="2246" textLength="386" lengthAdjust="spacingAndGlyphs">வீராங்கனை எனக்கு சித்தி முறை. பொற்</text>
<text x="1197" y="2272" textLength="386" lengthAdjust="spacingAndGlyphs">செல்வி அவர்களை 2012-ஆம் ஆண்டு</text>
<text x="1197" y="2298" textLength="404" lengthAdjust="spacingAndGlyphs">இன்றைய மாண்புமிகு முதலமைச்சர் அவர்கள்</text>
<text x="1197" y="2323" textLength="573" lengthAdjust="spacingAndGlyphs">நேரில் சந்தித்து நலம் விசாரித்துச் சென்றார். அப்படியான சூழலில்</text>
<text x="1197" y="2349" textLength="573" lengthAdjust="spacingAndGlyphs">இப்படம் எடுக்கப்பட்டது. சில காலம் கழித்து, என் சித்தி அவர்</text>
<text x="1197" y="2375" textLength="573" lengthAdjust="spacingAndGlyphs">களின் மறைவுக்கு நேரில் வந்து அஞ்சலி செலுத்திச் சென்றார் தலைவர்</text>
<text x="1197" y="2401" textLength="573" lengthAdjust="spacingAndGlyphs">தளபதி அவர்கள். கழகத்துக்காக உழைத்தவர்களை, என்றைக்கும்</text>
<text x="1197" y="2426" textLength="536" lengthAdjust="spacingAndGlyphs">கழகம் கைவிடாது என்பதற்கு என் சித்தி அவர்களே சாட்சி.</text>
<text x="1620" y="2263" class="bd" textLength="140" lengthAdjust="spacingAndGlyphs">வி.ராமச்சந்திரன்-</text>
<text x="1626" y="2288" class="bd" textLength="132" lengthAdjust="spacingAndGlyphs">டி.கலைச்செல்வி</text>
<text x="1302" y="2459" class="bd" textLength="468" lengthAdjust="spacingAndGlyphs">-வி.ராமச்சந்திரன்- டி.கலைச்செல்வி, தென்காசி மாவட்டம்.</text>
<text x="1204" y="2490" style="font-size:14px" textLength="553" lengthAdjust="spacingAndGlyphs">இது போன்ற அரிய புகைப்படங்களை சிறுகுறிப்புடன் எங்களுக்கு அனுப்புங்கள்.</text>
<text x="1204" y="2511" style="font-size:14px" textLength="553" lengthAdjust="spacingAndGlyphs">அலைபேசி எண் அவசியம். அனுப்ப வேண்டிய முகவரி: அன்பகம், 614, அண்ணா சாலை,</text>
<text x="1204" y="2531" style="font-size:14px" textLength="553" lengthAdjust="spacingAndGlyphs">தேனாம் பேட்டை, சென்னை-600 018. வாட்ஸ்அப் எண் : 90033-24473 மின்னஞ்சல்:</text>
<text x="1204" y="2551" style="font-size:14px;font-family:'Liberation Sans',sans-serif" textLength="120" lengthAdjust="spacingAndGlyphs">youthwing@dmk.in</text>
</g>
<g id="first-play" class="bd" style="font-size:20px">
<text x="1940" y="2214" class="m" style="font-size:30px;fill:#ed1c24" textLength="175" lengthAdjust="spacingAndGlyphs">முதல் நாடகம்</text>
<text x="1855" y="2248" style="font-size:23px" textLength="199" lengthAdjust="spacingAndGlyphs">1944 ஆம் ஆண்டு,</text>
<text x="1828" y="2279" textLength="226" lengthAdjust="spacingAndGlyphs">கலைஞர் தன்னுடைய</text>
<text x="1828" y="2309" textLength="226" lengthAdjust="spacingAndGlyphs">முதல் நாடகமான ‘சாந்தா</text>
<text x="1828" y="2339" textLength="226" lengthAdjust="spacingAndGlyphs">(அல்லது) பழனியப்பன்’</text>
<text x="1828" y="2369" textLength="226" lengthAdjust="spacingAndGlyphs">நாடகத்தை எழுதினார்.</text>
<text x="1828" y="2399" textLength="226" lengthAdjust="spacingAndGlyphs">திருவாரூர் பேபி டாக்</text>
<text x="1828" y="2429" textLength="226" lengthAdjust="spacingAndGlyphs">கீஸில் அரங்கேற்றினார்.</text>
<text x="1828" y="2458" textLength="226" lengthAdjust="spacingAndGlyphs">பின்னர் அந்த நாடகம்</text>
<text x="1828" y="2487" textLength="226" lengthAdjust="spacingAndGlyphs">திராவிடர் கழக மேடை</text>
<text x="1828" y="2517" textLength="226" lengthAdjust="spacingAndGlyphs">களில் தொடர்ந்து அரங்</text>
<text x="1828" y="2547" textLength="150" lengthAdjust="spacingAndGlyphs">கேற்றப்பட்டது.</text>
</g>
<g id="captions" class="c m">
<text x="567" y="2633" textLength="357" lengthAdjust="spacingAndGlyphs">சட்டமன்றத்தில் தி.மு.க உறுப்பினர்கள்.</text>
<text x="910" y="2643" textLength="161" lengthAdjust="spacingAndGlyphs">சங்கரலிங்கனாரின்</text>
<text x="911" y="2669" textLength="173" lengthAdjust="spacingAndGlyphs">தியாகத்தை யாரும்</text>
<text x="911" y="2695" textLength="101" lengthAdjust="spacingAndGlyphs">மறந்திருக்க</text>
<text x="913" y="2720" textLength="86" lengthAdjust="spacingAndGlyphs">முடியாது.</text>
<text x="488" y="2700" textLength="98" lengthAdjust="spacingAndGlyphs">தாயகமாம்</text>
<text x="490" y="2725" textLength="127" lengthAdjust="spacingAndGlyphs">தமிழகத்துக்கு</text>
<text x="488" y="2750" textLength="187" lengthAdjust="spacingAndGlyphs">மெட்ராஸ் மாகாணம்</text>
<text x="489" y="2776" textLength="197" lengthAdjust="spacingAndGlyphs">என்ற பெயரை மாற்றி</text>
<text x="489" y="2802" textLength="190" lengthAdjust="spacingAndGlyphs">தமிழ்நாடு என சூட்ட</text>
<text x="487" y="2829" textLength="91" lengthAdjust="spacingAndGlyphs">வேண்டும்.</text>
<text x="1420" y="2633" textLength="302" lengthAdjust="spacingAndGlyphs">சங்கரலிங்கனார் உண்ணாவிரதம்.</text>
<text x="1433" y="2685" textLength="176" lengthAdjust="spacingAndGlyphs">இந்த மாநிலத்திற்கு</text>
<text x="1431" y="2711" textLength="279" lengthAdjust="spacingAndGlyphs">தமிழ்நாடு என்று பெயர் சூட்ட</text>
<text x="1433" y="2737" textLength="290" lengthAdjust="spacingAndGlyphs">வலியுறுத்தி சாகும்வரை பட்டினி</text>
<text x="1435" y="2763" textLength="191" lengthAdjust="spacingAndGlyphs">கிடக்க சங்கரலிங்கம்</text>
<text x="1434" y="2788" textLength="194" lengthAdjust="spacingAndGlyphs">தீர்மானித்திருக்கிறார்.</text>
<text x="1850" y="2633" textLength="285" lengthAdjust="spacingAndGlyphs">சங்கரலிங்கனாருடன் அண்ணா,</text>
<text x="1842" y="2659" textLength="174" lengthAdjust="spacingAndGlyphs">ம.பொ.சி. சந்திப்பு.</text>
<text x="1855" y="2713" textLength="54" lengthAdjust="spacingAndGlyphs">உங்க</text>
<text x="1855" y="2739" textLength="129" lengthAdjust="spacingAndGlyphs">கோரிக்கைக்கு</text>
<text x="1857" y="2765" textLength="140" lengthAdjust="spacingAndGlyphs">நாங்க ஆதரவா</text>
<text x="1853" y="2791" textLength="127" lengthAdjust="spacingAndGlyphs">இருக்கிறோம்.</text>
<text x="1857" y="2817" textLength="178" lengthAdjust="spacingAndGlyphs">உண்ணாவிரதத்தை</text>
<text x="1857" y="2843" textLength="152" lengthAdjust="spacingAndGlyphs">கைவிடுங்கய்யா.</text>
</g>
<g id="footer">
<text x="120" y="3129" class="bd" style="font-size:16px" textLength="213" lengthAdjust="spacingAndGlyphs">எழுத்து : கோவிலெனின்</text>
<text x="116" y="3150" class="bd" style="font-size:16px" textLength="224" lengthAdjust="spacingAndGlyphs">ஓவியம் : கி.சொக்கலிங்கம்</text>
<text x="1960" y="3176" class="bd" style="font-size:16px" textLength="96" lengthAdjust="spacingAndGlyphs">-வாழ்வோம்</text>
<text x="84" y="3212" style="font-family:'Liberation Sans',sans-serif;font-size:13px" textLength="1996" lengthAdjust="spacingAndGlyphs">Published and Printed by Karthikeyan Shanmugasundaram On behalf of Murasoli Trust at Murasoli Achagam, No:180, Kodambakkam High Road, Chennai - 600 034 Editor: Karthikeyan Shanmugasundaram Regn. No.7436, TNCH (C) 261/24 - 26 RNI No.1244/57 WPP No.TN/PM.G. (CCR) W.P.P. 355/24-26. Phone: 28179191, 28179131</text>
</g>
</svg>
